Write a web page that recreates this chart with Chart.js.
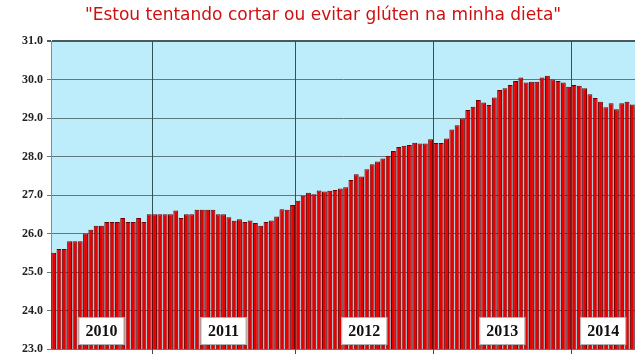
<!DOCTYPE html>
<html>
<head>
<meta charset="utf-8">
<script src="https://cdn.jsdelivr.net/npm/chart.js@4/dist/chart.umd.min.js"></script>
<style>
  html, body { margin: 0; padding: 0; background: #fff; }
  #wrap { width: 640px; height: 361px; }
</style>
</head>
<body>
<div id="wrap"><canvas id="glutenChart" width="640" height="361"></canvas></div>
<script>
// --- Data ---
const years = ["2010", "2011", "2012", "2013", "2014"];
const v2010 = [25.5, 25.6, 25.6, 25.8, 25.8, 25.8, 26.0, 26.1, 26.2, 26.2, 26.3, 26.3, 26.3, 26.4, 26.3, 26.3, 26.4, 26.3, 26.5];
const v2011 = [26.5, 26.5, 26.5, 26.5, 26.6, 26.4, 26.5, 26.5, 26.62, 26.62, 26.62, 26.62, 26.5, 26.5,
               26.42, 26.33, 26.37, 26.3, 26.34, 26.27, 26.2, 26.3, 26.34, 26.44, 26.63, 26.62, 26.74];
const v2012 = [26.85, 26.98, 27.06, 27.02, 27.12, 27.09, 27.11, 27.13, 27.17, 27.2, 27.39, 27.54, 27.48,
               27.67, 27.8, 27.87, 27.95, 28.02, 28.14, 28.25, 28.28, 28.3, 28.36, 28.34, 28.34, 28.45];
const v2013 = [28.35, 28.35, 28.47, 28.7, 28.81, 28.99, 29.21, 29.29, 29.47, 29.4, 29.34, 29.53, 29.73,
               29.77, 29.86, 29.96, 30.05, 29.92, 29.94, 29.94, 30.05, 30.1, 30.0, 29.96, 29.92, 29.81];
const v2014 = [29.86, 29.84, 29.77, 29.62, 29.52, 29.42, 29.28, 29.38, 29.23, 29.38, 29.42, 29.35];
const yTicks = [23, 24, 25, 26, 27, 28, 29, 30, 31];
const titleText = "\"Estou tentando cortar ou evitar glúten na minha dieta\"";

const perYear = [v2010, v2011, v2012, v2013, v2014];
const values = [];
const labels = [];
const yearStarts = [];
perYear.forEach((arr, yi) => {
  yearStarts.push(values.length);
  arr.forEach((v, i) => {
    values.push(v);
    labels.push(years[yi] + " #" + (i + 1));
  });
});

// --- Plugins ---
const plotBg = {
  id: "plotBg",
  beforeDraw(chart) {
    const { ctx, chartArea: a } = chart;
    ctx.save();
    ctx.fillStyle = "#bdecfa";
    ctx.fillRect(a.left, a.top, a.right - a.left, a.bottom - a.top);
    ctx.restore();
  }
};

function boundaryPx(x, i) {
  return (x.getPixelForValue(i - 1) + x.getPixelForValue(i)) / 2;
}

const yearMarks = {
  id: "yearMarks",
  beforeDatasetsDraw(chart) {
    const { ctx, chartArea: a } = chart;
    const x = chart.scales.x;
    ctx.save();
    ctx.strokeStyle = "#2f5458";
    ctx.lineWidth = 1;
    yearStarts.slice(1).forEach(i => {
      const px = Math.round(boundaryPx(x, i)) + 0.5;
      ctx.beginPath();
      ctx.moveTo(px, a.top);
      ctx.lineTo(px, a.bottom + 5);
      ctx.stroke();
    });
    ctx.restore();
  },
  afterDatasetsDraw(chart) {
    const { ctx, chartArea: a } = chart;
    const x = chart.scales.x;
    ctx.save();
    ctx.font = "bold 16px 'Liberation Serif', serif";
    ctx.textAlign = "center";
    ctx.textBaseline = "middle";
    years.forEach((yr, yi) => {
      const s = yearStarts[yi];
      const e = yi + 1 < yearStarts.length ? yearStarts[yi + 1] : values.length;
      const left = s === 0 ? a.left : boundaryPx(x, s);
      const right = e === values.length ? a.right : boundaryPx(x, e);
      const cx = (left + right) / 2;
      const cy = a.bottom - 18;
      ctx.fillStyle = "#ffffff";
      ctx.fillRect(cx - 23, cy - 14, 46, 28);
      ctx.strokeStyle = "#b0b0b0";
      ctx.strokeRect(cx - 23 + 0.5, cy - 14 + 0.5, 45, 27);
      ctx.fillStyle = "#111";
      ctx.fillText(yr, cx, cy + 1);
    });
    ctx.restore();
  },
  afterDraw(chart) {
    const { ctx } = chart;
    ctx.save();
    ctx.font = "17px 'DejaVu Sans', sans-serif";
    ctx.fillStyle = "#d01010";
    ctx.textAlign = "center";
    ctx.textBaseline = "middle";
    ctx.fillText(titleText, 323, 16);
    ctx.restore();
  }
};

// --- Chart ---
new Chart(document.getElementById("glutenChart").getContext("2d"), {
  type: "bar",
  data: {
    labels,
    datasets: [{
      data: values,
      backgroundColor: "#e80000",
      borderColor: "#6a0000",
      borderWidth: 1,
      barPercentage: 0.92,
      categoryPercentage: 1
    }]
  },
  options: {
    responsive: false,
    animation: false,
    layout: { padding: { top: 41, right: 5, bottom: 12, left: 0 } },
    plugins: {
      legend: { display: false },
      tooltip: { enabled: false },
      title: { display: false }
    },
    scales: {
      x: { display: false, offset: true },
      y: {
        min: 23,
        max: 31,
        afterFit(scale) { scale.width = 51; },
        afterBuildTicks(scale) { scale.ticks = yTicks.map(v => ({ value: v })); },
        ticks: {
          callback: v => Number(v).toFixed(1),
          color: "#222",
          padding: 4,
          font: { family: "'Liberation Serif', serif", weight: "bold", size: 12 }
        },
        grid: {
          color: c => c.tick && c.tick.value === 31 ? "#4a5a5c" : "#5f7a7e",
          lineWidth: c => c.tick && c.tick.value === 31 ? 2 : 1,
          tickLength: 4
        },
        border: { display: true, color: "#7d8f92" }
      }
    }
  },
  plugins: [plotBg, yearMarks]
});
</script>
</body>
</html>
